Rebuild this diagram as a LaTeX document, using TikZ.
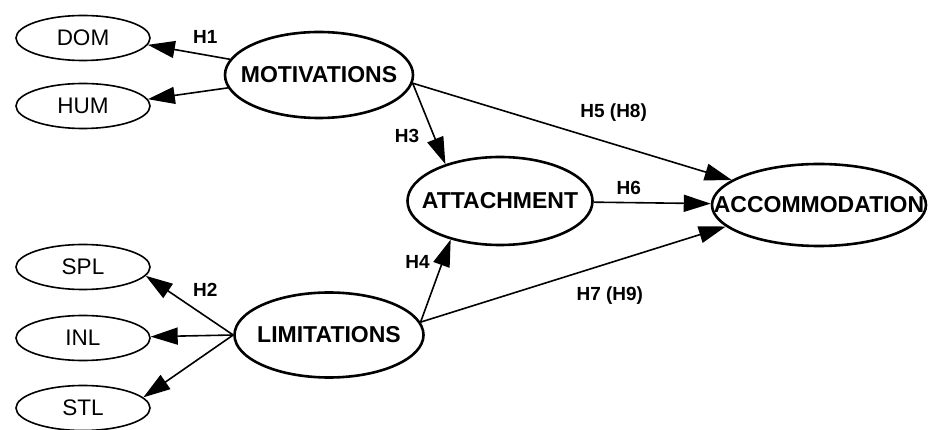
\documentclass[tikz,border=0pt]{standalone}
\usepackage{fontspec}
\setmainfont{Liberation Sans}
\usetikzlibrary{shapes.geometric,arrows.meta}

\begin{document}
\begin{tikzpicture}[x=1pt,y=-1pt]
        \useasboundingbox (0,0) rectangle (932,430);

        \begin{scope}[every node/.style={ellipse,draw,line width=1.6pt,inner ysep=0pt,inner xsep=-20pt,
            minimum width=134pt,minimum height=45pt,font=\fontsize{22.5}{22.5}\selectfont}]
          \node (dom) at (83,38)  {DOM};
          \node (hum) at (83,106) {HUM};
          \node (spl) at (83,267) {SPL};
          \node (inl) at (83,338) {INL};
          \node (stl) at (83,408) {STL};
        \end{scope}

        \begin{scope}[every node/.style={ellipse,draw,line width=2.6pt,inner ysep=0pt,inner xsep=-40pt,
            font=\fontsize{23}{23}\selectfont\bfseries}]
          \node[minimum width=188pt,minimum height=86pt] (mot) at (319,75)  {MOTIVATIONS};
          \node[minimum width=189pt,minimum height=85pt] (lim) at (329,335) {LIMITATIONS};
          \node[minimum width=185pt,minimum height=88pt] (att) at (500,201) {ATTACHMENT};
          \node[minimum width=214pt,minimum height=82pt] (acc) at (819,205) {ACCOMMODATION};
        \end{scope}

        \begin{scope}[every node/.style={font=\fontsize{19}{19}\selectfont\bfseries,inner sep=0pt}]

          \begin{scope}[every edge/.style={draw,line width=1.6pt,-{Triangle[length=27pt,width=17pt]}}]
            \path (mot)      edge node[pos=.3,above=11pt] {H1} (dom.-6);
            \path (mot)      edge (hum.6);
            \path (lim.west) edge node[pos=.32,above=19pt] {H2} (spl.-8);
            \path (lim.west) edge (inl);
            \path (lim.west) edge (stl.10);
            \path (mot.-5)   edge node[pos=.65,left=14pt] {H3} (att.146);
            \path (lim.8)    edge node[pos=.73,left=12pt] {H4} (att.218);
            \path (mot.-5)   edge node[pos=.63,above=22pt] {H5 (H8)} (acc.164);
            \path (att)      edge node[pos=.3,above=7pt] {H6} (acc);
            \path (lim.8)    edge node[pos=.62,below=23pt] {H7 (H9)} (acc.193);
          \end{scope}
        \end{scope}

      \end{tikzpicture}
\end{document}
